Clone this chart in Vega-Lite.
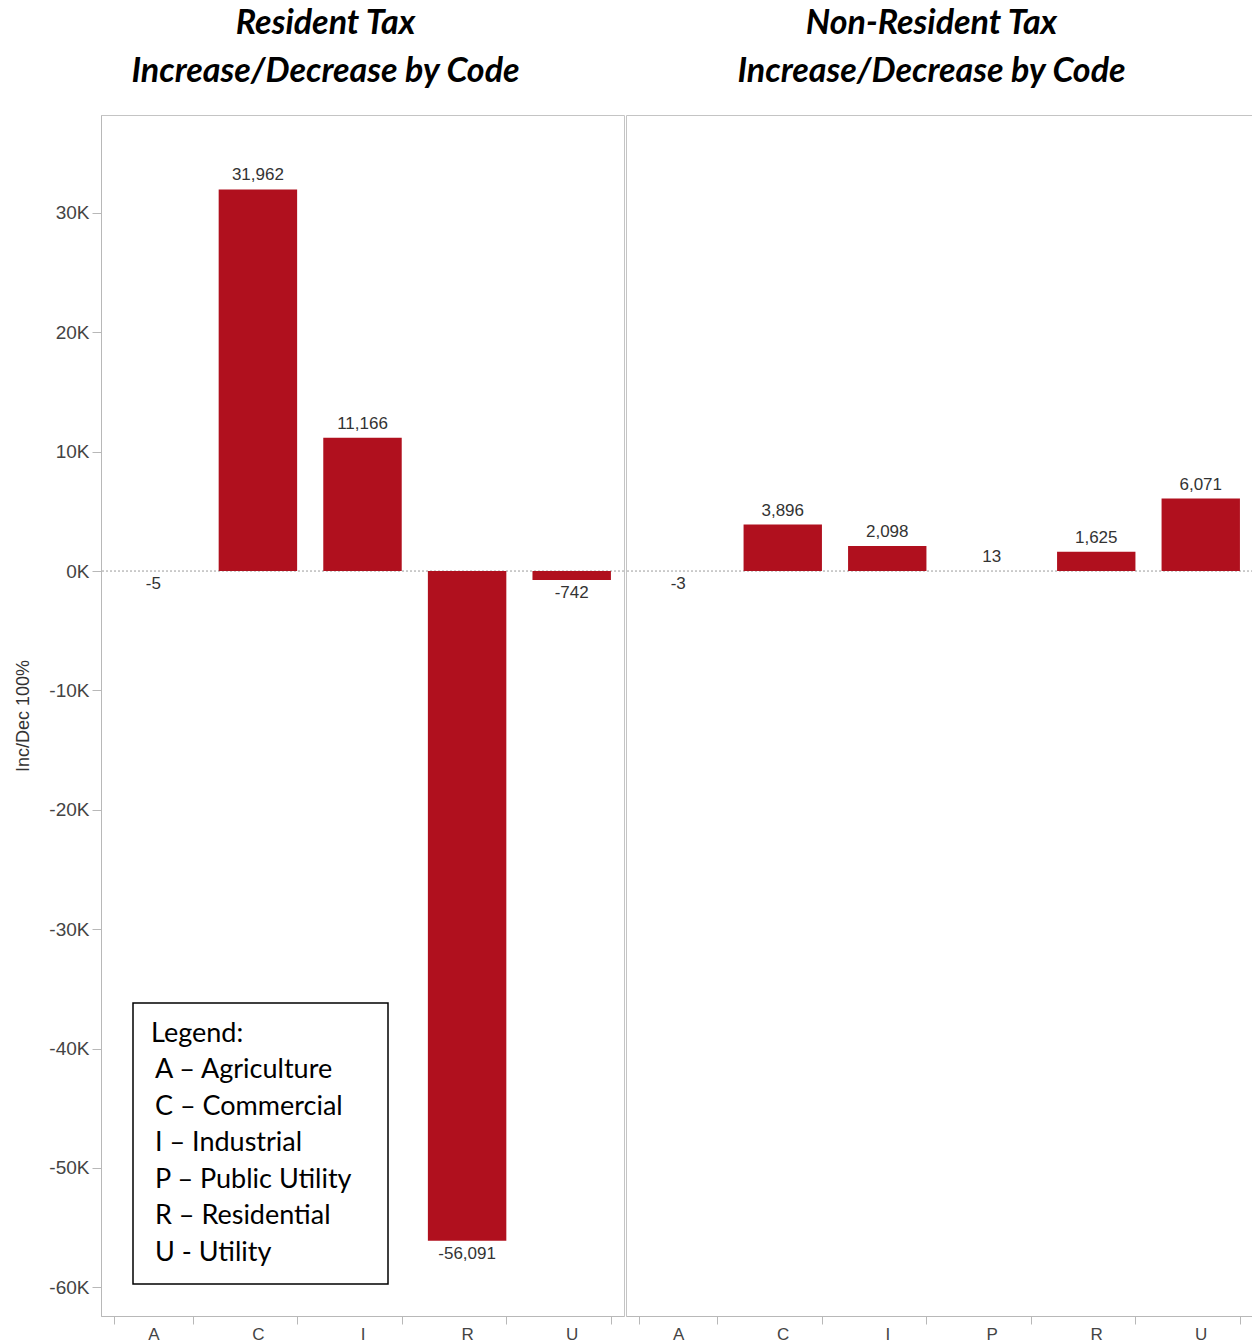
{
  "$schema": "https://vega.github.io/schema/vega-lite/v6.json",
  "padding": {"left": 14, "top": 6, "right": 0, "bottom": 0},
  "background": "white",
  "config": {
    "locale": {"number": {"decimal": ".", "thousands": ",", "grouping": [3], "currency": ["$", ""], "minus": "-"}},
    "view": {"stroke": "#c4c4c4", "strokeWidth": 1},
    "concat": {"spacing": 0},
    "axis": {
      "domainColor": "#b8b8b8",
      "tickColor": "#b8b8b8",
      "labelFont": "Liberation Sans",
      "labelColor": "#444444",
      "titleFont": "Liberation Sans",
      "titleColor": "#333333",
      "grid": false
    },
    "title": {"font": "Lato", "fontSize": 34, "fontStyle": "italic", "fontWeight": "bold", "color": "#000000", "lineHeight": 48}
  },
  "datasets": {
    "resident": [
      {"code": "A", "value": -5},
      {"code": "C", "value": 31962},
      {"code": "I", "value": 11166},
      {"code": "R", "value": -56091},
      {"code": "U", "value": -742}
    ],
    "nonresident": [
      {"code": "A", "value": -3},
      {"code": "C", "value": 3896},
      {"code": "I", "value": 2098},
      {"code": "P", "value": 13},
      {"code": "R", "value": 1625},
      {"code": "U", "value": 6071}
    ],
    "zero": [{"value": 0}]
  },
  "resolve": {"scale": {"color": "independent", "x": "independent"}, "legend": {"color": "independent"}},
  "hconcat": [
    {
      "width": 523,
      "height": 1201,
      "title": {"text": ["Resident Tax", "Increase/Decrease by Code"], "anchor": "middle", "frame": "group", "dx": -37, "offset": 26},
      "encoding": {
        "y": {
          "field": "value",
          "type": "quantitative",
          "scale": {"domain": [-62400, 38200], "nice": false, "zero": false},
          "axis": {
            "title": "Inc/Dec 100%",
            "values": [-60000, -50000, -40000, -30000, -20000, -10000, 0, 10000, 20000, 30000],
            "labelExpr": "datum.value / 1000 + 'K'",
            "labelFontSize": 19,
            "labelPadding": 3,
            "tickSize": 9,
            "titleFontSize": 18,
            "titleFontWeight": "normal",
            "titlePadding": 16
          }
        }
      },
      "layer": [
        {
          "data": {"name": "zero"},
          "mark": {"type": "rule", "color": "#9a9a9a", "strokeDash": [2, 2], "strokeWidth": 1}
        },
        {
          "data": {"name": "resident"},
          "mark": {"type": "bar"},
          "encoding": {
            "x": {
              "field": "code", "type": "nominal",
              "scale": {"paddingInner": 0.25, "paddingOuter": 0.125},
              "axis": {"title": null, "labelAngle": 0, "tickBand": "extent", "labelFontSize": 17, "tickSize": 8, "labelPadding": 2}
            },
            "color": {
              "field": "code", "type": "nominal",
              "scale": {"domain": ["A", "C", "I", "P", "R", "U"], "range": ["#b0101e", "#b0101e", "#b0101e", "#b0101e", "#b0101e", "#b0101e"]},
              "legend": {
                "title": "Legend:",
                "orient": "bottom-left",
                "offset": 32,
                "padding": 18,
                "strokeColor": "#000000",
                "fillColor": "#ffffff",
                "titleFont": "Lato",
                "titleFontSize": 27,
                "titleFontWeight": "normal",
                "titleColor": "#000000",
                "titlePadding": 8.5,
                "labelFont": "Lato",
                "labelFontSize": 27,
                "labelColor": "#000000",
                "labelLimit": 400,
                "labelOffset": -227,
                "rowPadding": 8.5,
                "symbolType": "square",
                "symbolSize": 4,
                "symbolOpacity": 0,
                "symbolOffset": 204,
                "labelExpr": "datum.label == 'A' ? 'A – Agriculture' : datum.label == 'C' ? 'C – Commercial' : datum.label == 'I' ? '\u00a0I – Industrial' : datum.label == 'P' ? 'P – Public Utility' : datum.label == 'R' ? 'R – Residential' : 'U - Utility'",
                "encode": {"legend": {"update": {"strokeWidth": {"value": 1.5}}}}
              }
            }
          }
        },
        {
          "data": {"name": "resident"},
          "transform": [{"filter": "datum.value >= 0"}],
          "mark": {"type": "text", "baseline": "bottom", "dy": -5, "font": "Liberation Sans", "fontSize": 17, "color": "#333333"},
          "encoding": {
            "x": {"field": "code", "type": "nominal"},
            "text": {"field": "value", "type": "quantitative", "format": ","}
          }
        },
        {
          "data": {"name": "resident"},
          "transform": [{"filter": "datum.value < 0"}],
          "mark": {"type": "text", "baseline": "top", "dy": 5, "font": "Liberation Sans", "fontSize": 17, "color": "#333333"},
          "encoding": {
            "x": {"field": "code", "type": "nominal"},
            "text": {"field": "value", "type": "quantitative", "format": ","}
          }
        }
      ]
    },
    {
      "width": 627,
      "height": 1201,
      "title": {"text": ["Non-Resident Tax", "Increase/Decrease by Code"], "anchor": "middle", "frame": "group", "dx": -8, "offset": 26},
      "encoding": {
        "y": {
          "field": "value",
          "type": "quantitative",
          "scale": {"domain": [-62400, 38200], "nice": false, "zero": false},
          "axis": null
        }
      },
      "layer": [
        {
          "data": {"name": "zero"},
          "mark": {"type": "rule", "color": "#9a9a9a", "strokeDash": [2, 2], "strokeWidth": 1}
        },
        {
          "data": {"name": "nonresident"},
          "mark": {"type": "bar", "color": "#b0101e"},
          "encoding": {
            "x": {
              "field": "code", "type": "nominal",
              "scale": {"paddingInner": 0.25, "paddingOuter": 0.125},
              "axis": {"title": null, "labelAngle": 0, "tickBand": "extent", "labelFontSize": 17, "tickSize": 8, "labelPadding": 2}
            }
          }
        },
        {
          "data": {"name": "nonresident"},
          "transform": [{"filter": "datum.value >= 0"}],
          "mark": {"type": "text", "baseline": "bottom", "dy": -5, "font": "Liberation Sans", "fontSize": 17, "color": "#333333"},
          "encoding": {
            "x": {"field": "code", "type": "nominal"},
            "text": {"field": "value", "type": "quantitative", "format": ","}
          }
        },
        {
          "data": {"name": "nonresident"},
          "transform": [{"filter": "datum.value < 0"}],
          "mark": {"type": "text", "baseline": "top", "dy": 5, "font": "Liberation Sans", "fontSize": 17, "color": "#333333"},
          "encoding": {
            "x": {"field": "code", "type": "nominal"},
            "text": {"field": "value", "type": "quantitative", "format": ","}
          }
        }
      ]
    }
  ]
}
